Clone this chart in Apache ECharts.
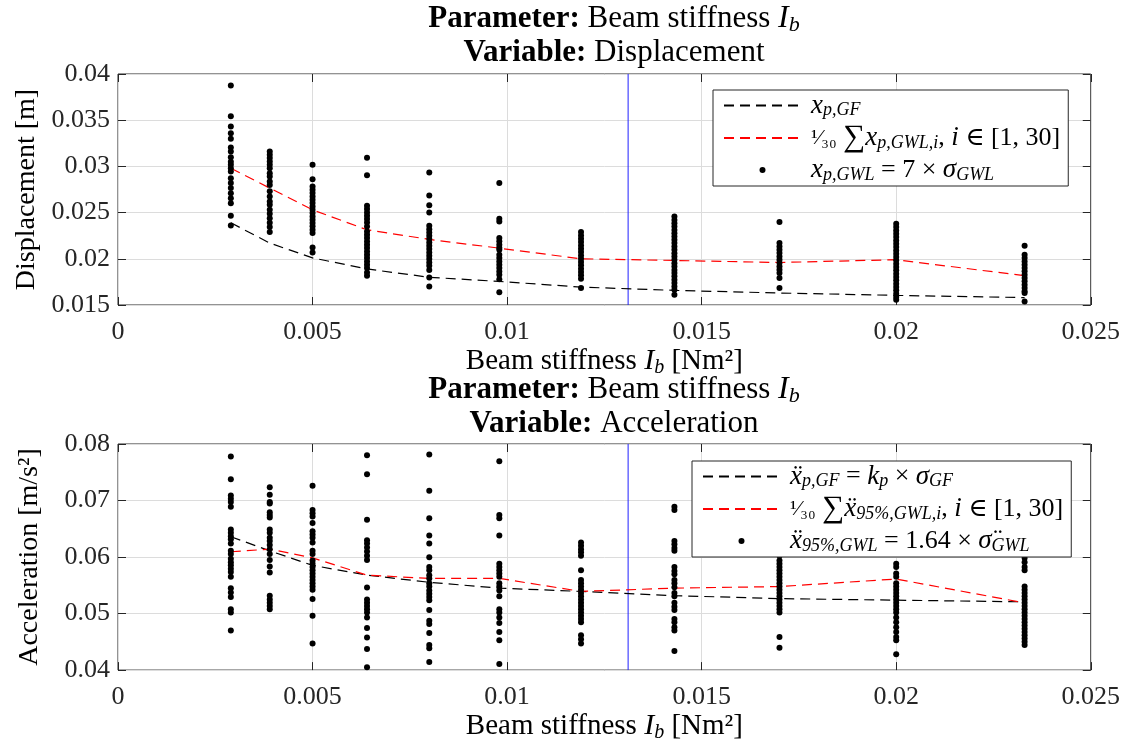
<!DOCTYPE html>
<html>
<head>
<meta charset="utf-8">
<script src="https://cdn.jsdelivr.net/npm/echarts@6/dist/echarts.min.js"></script>
<style>html,body{margin:0;padding:0;background:#fff}#c{width:1123px;height:744px}</style>
</head>
<body>
<div id="c"></div>
<script>
// ---------- data ----------
const stiffness = [0.0029, 0.0039, 0.0050, 0.0064, 0.0080, 0.0098, 0.0119, 0.0143, 0.0170, 0.0200, 0.0233];
const referenceStiffness = 0.01311;

const dispGF   = [0.0239, 0.0217, 0.0201, 0.0189, 0.0180, 0.01755, 0.01694, 0.01658, 0.0163, 0.01604, 0.0158];
const dispMean = [0.0298, 0.02765, 0.0253, 0.02314, 0.0221, 0.02115, 0.0200, 0.01982, 0.0196, 0.0199, 0.01817];
const dispGWL = [
  [0.03875,0.03543,0.03432,0.0336,0.03298,0.03204,0.0316,0.031,0.0305,0.03017,0.0298,0.02945,0.02873,0.0282,0.02765,0.0271,0.02656,0.026,0.02465,0.0236],
  [0.0316,0.03127,0.0309,0.03053,0.03017,0.0298,0.02927,0.0289,0.02837,0.028,0.0273,0.02675,0.0262,0.02585,0.0253,0.02488,0.0244,0.0239,0.02343,0.0229],
  [0.03017,0.02862,0.02783,0.02747,0.02711,0.02675,0.02639,0.02603,0.02567,0.02531,0.02495,0.02459,0.02423,0.02387,0.02351,0.02315,0.02278,0.02123,0.02069],
  [0.03093,0.02905,0.02574,0.0254,0.02502,0.02466,0.0243,0.02394,0.0235,0.02296,0.0226,0.02224,0.02188,0.02152,0.02116,0.0208,0.02044,0.02008,0.01972,0.01936,0.019,0.01853,0.01817],
  [0.02934,0.02685,0.0258,0.025,0.02357,0.0232,0.02285,0.0225,0.02213,0.02177,0.02141,0.02105,0.02069,0.02033,0.01997,0.01961,0.01925,0.0188,0.01798,0.017],
  [0.02819,0.02433,0.02404,0.02224,0.0219,0.02152,0.0212,0.02098,0.02044,0.02008,0.01972,0.01936,0.019,0.01863,0.01827,0.0178,0.01637],
  [0.02289,0.02253,0.02217,0.02181,0.02145,0.02109,0.02073,0.02037,0.02001,0.01965,0.01929,0.01893,0.01857,0.01821,0.01785,0.01683],
  [0.02458,0.0242,0.02385,0.0235,0.02313,0.02277,0.0224,0.02205,0.0217,0.02133,0.02097,0.0206,0.02025,0.0199,0.01953,0.01917,0.0188,0.01845,0.0181,0.01773,0.01737,0.017,0.01665,0.01611],
  [0.02397,0.0217,0.02134,0.02098,0.02062,0.02026,0.0199,0.01954,0.01918,0.01882,0.01846,0.01791,0.01683],
  [0.02379,0.02343,0.02307,0.02271,0.02235,0.02199,0.02163,0.02127,0.02091,0.02055,0.02019,0.01983,0.01947,0.01911,0.01875,0.01839,0.01803,0.01767,0.01731,0.01695,0.01659,0.01623,0.01587,0.01557],
  [0.0214,0.02044,0.02008,0.01972,0.01936,0.019,0.01864,0.01828,0.01792,0.01756,0.0172,0.01684,0.01648,0.01629,0.01539]
];

const accGF   = [0.0636, 0.0611, 0.05853, 0.0568, 0.05553, 0.0545, 0.05392, 0.05317, 0.05265, 0.05237, 0.05208];
const accMean = [0.06094, 0.0614, 0.05985, 0.0568, 0.05622, 0.05622, 0.05392, 0.0545, 0.05478, 0.05611, 0.0519];
const accGWL = [
  [0.07781,0.07378,0.0709,0.07033,0.06975,0.06889,0.06486,0.06428,0.0637,0.06313,0.06238,0.06112,0.06054,0.05968,0.0591,0.05853,0.05795,0.05737,0.05651,0.0545,0.05375,0.05294,0.05075,0.05018,0.047],
  [0.07234,0.07102,0.06975,0.06946,0.06791,0.06745,0.06699,0.06486,0.06428,0.06342,0.06284,0.06215,0.0614,0.06054,0.0595,0.05835,0.05726,0.05317,0.05248,0.0519,0.05133,0.05075],
  [0.07263,0.06831,0.06774,0.06716,0.06601,0.06457,0.064,0.06342,0.06256,0.06112,0.06054,0.05939,0.05881,0.05824,0.05766,0.05709,0.05651,0.05594,0.05536,0.05478,0.05421,0.0526,0.0496,0.04471],
  [0.07799,0.07465,0.06659,0.06296,0.06238,0.06169,0.061,0.06025,0.0595,0.05461,0.05248,0.0519,0.05133,0.05075,0.05018,0.04931,0.04747,0.04575,0.04373,0.04051],
  [0.07816,0.07171,0.06687,0.06382,0.06238,0.05997,0.05824,0.05766,0.0568,0.05622,0.05536,0.05478,0.05409,0.05352,0.05294,0.05237,0.05064,0.04874,0.04816,0.04655,0.04442,0.04385,0.04143],
  [0.07695,0.06745,0.06687,0.06382,0.05881,0.05824,0.05766,0.05709,0.05651,0.05536,0.05478,0.05409,0.05306,0.05075,0.05018,0.04931,0.04834,0.04672,0.04528,0.04108],
  [0.06256,0.06198,0.0614,0.06083,0.06025,0.05766,0.05594,0.05536,0.05478,0.05421,0.05363,0.05306,0.05248,0.0519,0.05133,0.05075,0.05018,0.0496,0.04903,0.04845,0.04615,0.04546,0.04471],
  [0.06889,0.06831,0.06284,0.06227,0.06158,0.06112,0.05824,0.05755,0.05697,0.05594,0.05536,0.05467,0.05363,0.05306,0.0519,0.05121,0.05064,0.04903,0.04845,0.04759,0.04701,0.04339],
  [0.06600,0.06450,0.06025,0.05939,0.05881,0.05824,0.05766,0.05709,0.05651,0.05594,0.05536,0.05478,0.05421,0.05363,0.05306,0.05248,0.0519,0.05133,0.05075,0.05018,0.04586,0.04396],
  [0.05881,0.05824,0.05709,0.05651,0.05536,0.05478,0.05421,0.05363,0.05306,0.05248,0.0519,0.05133,0.05075,0.05018,0.04931,0.04845,0.04759,0.04672,0.04586,0.04528,0.04281],
  [0.06043,0.05985,0.0591,0.05824,0.05766,0.05478,0.05421,0.05363,0.05306,0.05248,0.0519,0.05133,0.05075,0.05018,0.0496,0.04903,0.04845,0.04787,0.0473,0.04672,0.04615,0.04557,0.045,0.04442]
];

const xTicks = {min: 0, max: 0.025, interval: 0.005};
const dispTicks = {min: 0.015, max: 0.04, interval: 0.005};
const accTicks = {min: 0.04, max: 0.08, interval: 0.01};

// ---------- helpers ----------
const FONT = '"Liberation Serif", "DejaVu Serif", serif';
const INK = '#262626';
const DASH = [10, 6];
function makeRich(size, lh) {
  return {
    n: {fontFamily: FONT, fontSize: size, fontWeight: 'normal', color: '#000', lineHeight: lh},
    i: {fontFamily: FONT, fontSize: size + 1, fontStyle: 'italic', fontWeight: 'normal', color: '#000', lineHeight: lh},
    s: {fontFamily: FONT, fontSize: Math.round(size * 0.7), fontStyle: 'italic', fontWeight: 'normal', color: '#000', lineHeight: Math.round(size * 0.7), verticalAlign: 'bottom'},
    b: {fontFamily: FONT, fontSize: size, fontWeight: 'bold', color: '#000', lineHeight: lh},
    f: {fontFamily: FONT, fontSize: Math.round(size * 0.85), fontWeight: 'normal', color: '#000', lineHeight: lh},
    g: {fontFamily: FONT, fontSize: Math.round(size * 1.2), fontWeight: 'normal', color: '#000', lineHeight: lh}
  };
}
const titleRich = makeRich(31, 34);
const nameRich = makeRich(29, 34);
const legendRich = makeRich(26, 28);

function pairs(xs, ys) { return xs.map((x, k) => [x, ys[k]]); }
function cloud(xs, cols) { const out = []; cols.forEach((c, k) => c.forEach(v => out.push([xs[k], v]))); return out; }

const legendText = {
  dGF: '{i|x}{s|p,GF}',
  dMean: '{f|¹⁄₃₀}{n| }{g|∑}{i|x}{s|p,GWL,i}{n|, }{i|i}{n| ∈ [1, 30]}',
  dPts: '{i|x}{s|p,GWL}{n| = 7 × }{i|σ}{s|GWL}',
  aGF: '{i|ẍ}{s|p,GF}{n| = }{i|k}{s|p}{n| × }{i|σ}{s|GF}',
  aMean: '{f|¹⁄₃₀}{n| }{g|∑}{i|ẍ}{s|95%,GWL,i}{n|, }{i|i}{n| ∈ [1, 30]}',
  aPts: '{i|ẍ}{s|95%,GWL}{n| = 1.64 × }{i|σ̈}{s|GWL}'
};

const grids = [
  {left: 118, right: 23, top: 74, height: 231, show: true, borderColor: INK, borderWidth: 1},
  {left: 118, right: 23, top: 444, height: 231, show: true, borderColor: INK, borderWidth: 1}
];

function xAx(gi, pos, labels) {
  return Object.assign({
    type: 'value', gridIndex: gi, position: pos,
    axisLine: {show: false, onZero: false},
    axisTick: {show: true, inside: true, length: 8, lineStyle: {color: INK}},
    axisLabel: {show: labels, color: INK, fontFamily: FONT, fontSize: 26, margin: 14},
    splitLine: {show: labels, lineStyle: {color: '#dcdcdc', width: 1}},
    name: labels ? '{n|Beam stiffness }{i|I}{s|b}{n| [Nm²]}' : '',
    nameLocation: 'middle', nameGap: 34,
    nameTextStyle: {rich: nameRich}
  }, xTicks);
}
function yAx(gi, pos, labels, ticks, name) {
  return Object.assign({
    type: 'value', gridIndex: gi, position: pos,
    axisLine: {show: false, onZero: false},
    axisTick: {show: true, inside: true, length: 8, lineStyle: {color: INK}},
    axisLabel: {show: labels, color: INK, fontFamily: FONT, fontSize: 26, margin: 8},
    splitLine: {show: labels, lineStyle: {color: '#dcdcdc', width: 1}},
    name: labels ? name : '',
    nameLocation: 'middle', nameGap: 74,
    nameTextStyle: {color: '#000', fontFamily: FONT, fontSize: 28}
  }, ticks);
}

function titles(top, variable) {
  return [
    {text: '{b|Parameter:}{n| Beam stiffness }{i|I}{s|b}', left: 609, top: top, textAlign: 'center', textStyle: {rich: titleRich}},
    {text: '{b|Variable:}{n| ' + variable + '}', left: 609, top: top + 34, textAlign: 'center', textStyle: {rich: titleRich}}
  ];
}

function lineSeries(name, xi, yi, data, color) {
  return {
    name: name, type: 'line', xAxisIndex: xi, yAxisIndex: yi, data: data,
    symbol: 'none', lineStyle: {color: color, width: 1.2, type: DASH}, itemStyle: {color: color},
    z: 3, animation: false
  };
}
function refLine(xi, yi, ticks) {
  return {
    name: 'ref', type: 'line', xAxisIndex: xi, yAxisIndex: yi,
    data: [[referenceStiffness, ticks.min], [referenceStiffness, ticks.max]],
    symbol: 'none', lineStyle: {color: '#1f1fff', width: 1, type: 'solid'}, z: 2, animation: false, silent: true
  };
}
function scatterSeries(name, xi, yi, data) {
  return {name: name, type: 'scatter', xAxisIndex: xi, yAxisIndex: yi, data: data,
    symbol: 'circle', symbolSize: 6, itemStyle: {color: '#000', opacity: 1}, z: 4, animation: false};
}

function legend(top, left, names) {
  return {
    top: top, left: left, orient: 'vertical', align: 'left',
    data: names.map((n, k) => k < 2 ? {name: n, itemStyle: {opacity: 0}} : {name: n}),
    itemWidth: 77, itemHeight: 6, itemGap: 3,
    backgroundColor: '#fff', borderColor: INK, borderWidth: 1, padding: [2, 8, 2, 10],
    formatter: n => legendText[n],
    textStyle: {rich: legendRich, padding: [0, 0, 0, 5]},
    selectedMode: false, z: 10
  };
}

const option = {
  animation: false,
  backgroundColor: '#fff',
  title: titles(-3, 'Displacement').concat(titles(368, 'Acceleration')),
  grid: grids,
  xAxis: [xAx(0, 'bottom', true), xAx(0, 'top', false), xAx(1, 'bottom', true), xAx(1, 'top', false)],
  yAxis: [
    yAx(0, 'left', true, dispTicks, 'Displacement [m]'), yAx(0, 'right', false, dispTicks, ''),
    yAx(1, 'left', true, accTicks, 'Acceleration [m/s²]'), yAx(1, 'right', false, accTicks, '')
  ],
  legend: [legend(90, 713, ['dGF', 'dMean', 'dPts']), legend(461, 692, ['aGF', 'aMean', 'aPts'])],
  series: [
    refLine(0, 0, dispTicks),
    lineSeries('dGF', 0, 0, pairs(stiffness, dispGF), '#000'),
    lineSeries('dMean', 0, 0, pairs(stiffness, dispMean), '#ff0000'),
    scatterSeries('dPts', 0, 0, cloud(stiffness, dispGWL)),
    refLine(2, 2, accTicks),
    lineSeries('aGF', 2, 2, pairs(stiffness, accGF), '#000'),
    lineSeries('aMean', 2, 2, pairs(stiffness, accMean), '#ff0000'),
    scatterSeries('aPts', 2, 2, cloud(stiffness, accGWL))
  ]
};

const chart = echarts.init(document.getElementById('c'), null, {renderer: 'canvas'});
chart.setOption(option);
</script>
</body>
</html>
